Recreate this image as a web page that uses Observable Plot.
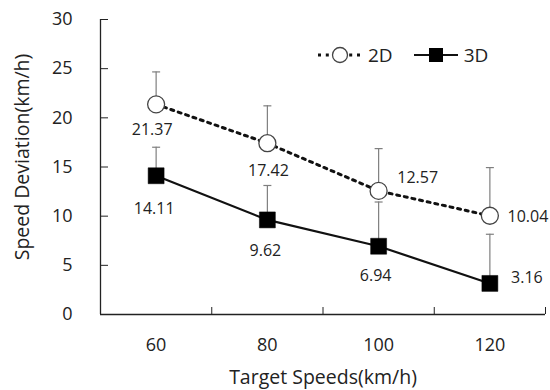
<!DOCTYPE html>
<html>
<head>
<meta charset="utf-8">
<script src="https://cdn.jsdelivr.net/npm/d3@7"></script>
<script src="https://cdn.jsdelivr.net/npm/@observablehq/plot@0.6"></script>
<style>
  body { margin: 0; background: #fff; }
  #wrap { position: relative; width: 550px; height: 390px; font-family: "Open Sans", sans-serif; }
  #legend { position: absolute; left: 316px; top: 42px; display: flex; align-items: center; font-size: 19px; color: #222; }
  #legend .item { display: flex; align-items: center; margin-right: 20px; }
  #legend svg { display: block; }
</style>
</head>
<body>
<div id="wrap"><div id="legend"></div></div>
<script>
const speeds = ["60", "80", "100", "120"];
const dev2D = [21.37, 17.42, 12.57, 10.04];
const err2D = [3.3, 3.8, 4.3, 4.9];
const dev3D = [14.11, 9.62, 6.94, 3.16];
const err3D = [2.9, 3.5, 4.5, 5.0];
const yTicks = [0, 5, 10, 15, 20, 25, 30];
const seriesNames = ["2D", "3D"];

// label offsets (pixels), styling only
const off2D = [[-4, 26], [1, 28], [39, -13], [38, 1]];
const off3D = [[-2, 33], [-2, 31], [-3, 30], [37, -6]];

const rows = (vals, errs, offs) => speeds.map((s, i) => ({
  speed: s, pos: i + 0.5, value: vals[i], upper: vals[i] + errs[i], dx: offs[i][0], dy: offs[i][1]
}));
const rows2D = rows(dev2D, err2D, off2D);
const rows3D = rows(dev3D, err3D, off3D);

const cap = { draw(ctx, size) { const r = Math.sqrt(size / Math.PI); ctx.moveTo(-r, 0); ctx.lineTo(r, 0); } };

const labels = (data) => data.map(d => Plot.text([d], {
  x: "pos", y: "value", text: d => d.value.toFixed(2), dx: d.dx, dy: d.dy, fontSize: 16, fill: "#222"
}));

const chart = Plot.plot({
  width: 550, height: 390,
  marginLeft: 100, marginRight: 5, marginTop: 19, marginBottom: 76,
  style: { fontFamily: "Open Sans, sans-serif", color: "#222", background: "transparent" },
  x: { domain: [0, speeds.length] },
  y: { domain: [0, 30] },
  marks: [
    Plot.axisY({ ticks: yTicks, tickSize: 0, tickPadding: 28, fontSize: 18, label: null }),
    Plot.axisY({ ticks: yTicks, tickSize: -8, tickFormat: () => "", label: null, stroke: "#222" }),
    Plot.axisX({ ticks: speeds.map((s, i) => i + 0.5), tickFormat: v => speeds[Math.floor(v)], tickSize: 0, tickPadding: 24, fontSize: 18, label: null }),
    Plot.axisX({ ticks: d3.range(speeds.length + 1), tickSize: -7, tickFormat: () => "", label: null, stroke: "#222" }),
    Plot.ruleX([0], { stroke: "#222", strokeWidth: 1.3 }),
    Plot.ruleY([0], { stroke: "#222", strokeWidth: 1.3 }),
    Plot.text(["Speed Deviation(km/h)"], { frameAnchor: "left", rotate: -90, textAnchor: "middle", lineAnchor: "middle", dx: -78, dy: -10, fontSize: 19.5, fill: "#222" }),
    Plot.text(["Target Speeds(km/h)"], { frameAnchor: "bottom", textAnchor: "middle", lineAnchor: "middle", dy: 63, fontSize: 19.5, fill: "#222" }),
    // error bars
    Plot.ruleX(rows2D, { x: "pos", y1: "value", y2: "upper", stroke: "#7f7f7f", strokeWidth: 1.2 }),
    Plot.dot(rows2D, { x: "pos", y: "upper", symbol: cap, r: 4, stroke: "#7f7f7f", strokeWidth: 1.2, fill: "none" }),
    Plot.ruleX(rows3D, { x: "pos", y1: "value", y2: "upper", stroke: "#7f7f7f", strokeWidth: 1.2 }),
    Plot.dot(rows3D, { x: "pos", y: "upper", symbol: cap, r: 4, stroke: "#7f7f7f", strokeWidth: 1.2, fill: "none" }),
    // lines
    Plot.line(rows2D, { x: "pos", y: "value", stroke: "#111", strokeWidth: 3, strokeDasharray: "3,4.8" }),
    Plot.line(rows3D, { x: "pos", y: "value", stroke: "#111", strokeWidth: 2.2 }),
    // markers
    Plot.dot(rows2D, { x: "pos", y: "value", r: 8.5, fill: "white", stroke: "#444", strokeWidth: 1.3 }),
    Plot.dot(rows3D, { x: "pos", y: "value", symbol: "square", r: 9, fill: "#000", stroke: "#000", strokeWidth: 0.5 }),
    ...labels(rows2D),
    ...labels(rows3D)
  ]
});
document.getElementById("wrap").prepend(chart);

// legend
const legend = document.getElementById("legend");
legend.innerHTML = `
  <div class="item">
    <svg width="46" height="20"><line x1="2" y1="10" x2="44" y2="10" stroke="#111" stroke-width="3" stroke-dasharray="3,4.8"/>
      <circle cx="24" cy="10" r="7.5" fill="white" stroke="#444" stroke-width="1.3"/></svg>
    <span style="margin-left:6px">${seriesNames[0]}</span>
  </div>
  <div class="item">
    <svg width="46" height="20"><line x1="1" y1="10" x2="45" y2="10" stroke="#111" stroke-width="2.2"/>
      <rect x="16" y="3" width="14" height="14" fill="#000"/></svg>
    <span style="margin-left:5px">${seriesNames[1]}</span>
  </div>`;
</script>
</body>
</html>
